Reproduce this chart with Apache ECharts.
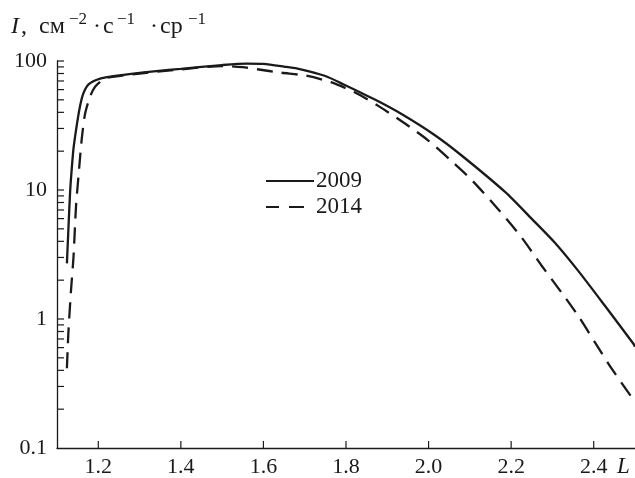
<!DOCTYPE html>
<html>
<head>
<meta charset="utf-8">
<script src="https://cdn.jsdelivr.net/npm/echarts@6/dist/echarts.min.js"></script>
<style>
html,body{margin:0;padding:0;background:#fff;}
#chart{width:635px;height:478px;}
</style>
</head>
<body>
<div id="chart"></div>
<script>
// ---- data ----
var seriesNames = ['2009', '2014'];
var L2009 = [1.124, 1.128, 1.132, 1.136, 1.140, 1.146, 1.154, 1.162, 1.1745, 1.195, 1.221, 1.2800, 1.3406, 1.40, 1.50, 1.56, 1.60, 1.65, 1.6905, 1.75, 1.7958, 1.8687, 1.9335, 2.0145, 2.0793, 2.1846, 2.2494, 2.306, 2.363, 2.4276, 2.4966, 2.50];
var I2009 = [2.7, 5.3, 10, 15, 21, 29, 41.7, 54, 65, 71.3, 75, 79.5, 83.6, 87, 93, 95.5, 95, 90.5, 86.3, 76.5, 65.5, 50.5, 39, 26.7, 18.6, 9.7, 6.0, 3.9, 2.35, 1.26, 0.64, 0.61];
var L2014 = [1.124, 1.1275, 1.134, 1.140, 1.146, 1.1535, 1.160, 1.168, 1.180, 1.192, 1.207, 1.221, 1.30, 1.40, 1.50, 1.55, 1.585, 1.642, 1.703, 1.7634, 1.822, 1.88, 1.942, 1.998, 2.055, 2.105, 2.1685, 2.225, 2.2736, 2.3223, 2.363, 2.403, 2.444, 2.497];
var I2014 = [0.415, 0.775, 1.68, 3.04, 7.4, 14.5, 25, 39, 53, 63, 70, 74, 80, 86, 91.5, 89.5, 86.3, 81.2, 77, 68.5, 57, 44.5, 32.9, 24.4, 16.8, 11.9, 7.1, 4.3, 2.6, 1.6, 1.05, 0.66, 0.41, 0.235];
var xTickLabels = [1.2, 1.4, 1.6, 1.8, 2.0, 2.2, 2.4];
var yTickLabels = [0.1, 1, 10, 100];
var yTickMarks = [0.2, 0.3, 0.4, 0.5, 0.6, 0.7, 0.8, 0.9, 1, 2, 3, 4, 5, 6, 7, 8, 9, 10, 20, 30, 40, 50, 60, 70, 80, 90, 100];

function pairs(xs, ys) { return xs.map(function (x, i) { return [x, ys[i]]; }); }

var FONT = 'Liberation Serif';
var INK = '#1a1a1a';
var X_MIN = 1.1, X_MAX = 2.5, Y_MIN = 0.1, Y_MAX = 100;
var TICK_LEN = 7;

function titlePiece(left, top, text, size, italic) {
  return {type: 'text', left: left, top: top, silent: true,
    style: {text: text, fontFamily: FONT, fontSize: size, fontStyle: italic ? 'italic' : 'normal', fill: INK}};
}

// x ticks: pixel position from the axis scales; the base is one decade below y = 1 (i.e. y = 0.1, the axis)
function xTickItem(params, api) {
  var x = api.value(0);
  var p1 = api.coord([x, 1]);
  var p10 = api.coord([x, 10]);
  var y0 = p1[1] + (p1[1] - p10[1]);
  return {type: 'line', shape: {x1: p1[0], y1: y0, x2: p1[0], y2: y0 - TICK_LEN},
    style: {stroke: INK, lineWidth: 1.2}};
}

var chart = echarts.init(document.getElementById('chart'), null, {renderer: 'canvas'});
chart.setOption({
  animation: false,
  backgroundColor: '#fff',
  grid: {left: 57, right: 0, top: 61, bottom: 30, containLabel: false},
  xAxis: {
    type: 'value', min: X_MIN, max: X_MAX,
    axisLine: {show: true, lineStyle: {color: INK, width: 1.3}},
    axisTick: {show: false},
    axisLabel: {customValues: xTickLabels, margin: 8, color: INK, fontFamily: FONT, fontSize: 22,
      formatter: function (v) { return Number(v).toFixed(1); }},
    splitLine: {show: false}
  },
  yAxis: {
    type: 'log', logBase: 10, min: Y_MIN, max: Y_MAX,
    axisLine: {show: true, lineStyle: {color: INK, width: 1.3}},
    axisTick: {show: false},
    axisLabel: {customValues: yTickLabels, margin: 10, color: INK, fontFamily: FONT, fontSize: 22,
      formatter: function (v) { v = Number(v); return v < 1 ? v.toFixed(1) : String(Math.round(v)); }},
    splitLine: {show: false}
  },
  legend: {
    orient: 'vertical', left: 260, top: 164, itemWidth: 48, itemHeight: 14, itemGap: 2,
    textStyle: {color: INK, fontFamily: FONT, fontSize: 23, lineHeight: 24, padding: [0, 0, 0, -3]},
    selected: {'yticks': true, 'xticks': true},
    data: [
      {name: seriesNames[0], itemStyle: {opacity: 0}},
      {name: seriesNames[1], itemStyle: {opacity: 0}, lineStyle: {type: [13, 10, 15, 10]}}
    ]
  },
  series: [
    {name: seriesNames[0], type: 'line', data: pairs(L2009, I2009), symbol: 'none', showSymbol: false, smooth: 0.25,
      lineStyle: {color: INK, width: 2.3}, itemStyle: {color: INK}},
    {name: seriesNames[1], type: 'line', data: pairs(L2014, I2014), symbol: 'none', showSymbol: false, smooth: 0.25,
      lineStyle: {color: INK, width: 2.3, type: [16, 9]}, itemStyle: {color: INK}},
    {name: 'yticks', type: 'scatter', silent: true, clip: false, z: 5,
      data: yTickMarks.map(function (v) { return [X_MIN, v]; }),
      symbol: 'rect', symbolSize: [7, 1.2], symbolOffset: [3.5, 0], itemStyle: {color: INK, opacity: 1}},
    {name: 'xticks', type: 'custom', silent: true, clip: false, z: 5,
      data: xTickLabels.map(function (v) { return [v, 1]; }),
      renderItem: xTickItem}
  ],
  graphic: [
    titlePiece(11, 15, 'I', 24, true),
    titlePiece(21, 15, ',', 24, false),
    titlePiece(39, 15, 'см', 24, false),
    titlePiece(69, 11, '−2', 17, false),
    titlePiece(93, 15, '·', 24, false),
    titlePiece(103, 15, 'с', 24, false),
    titlePiece(117, 11, '−1', 17, false),
    titlePiece(150, 15, '·', 24, false),
    titlePiece(160, 15, 'ср', 24, false),
    titlePiece(188, 11, '−1', 17, false),
    {type: 'text', left: 617, top: 455, silent: true, style: {text: 'L', fontFamily: FONT, fontSize: 23, fontStyle: 'italic', fill: INK}}
  ]
});
</script>
</body>
</html>
